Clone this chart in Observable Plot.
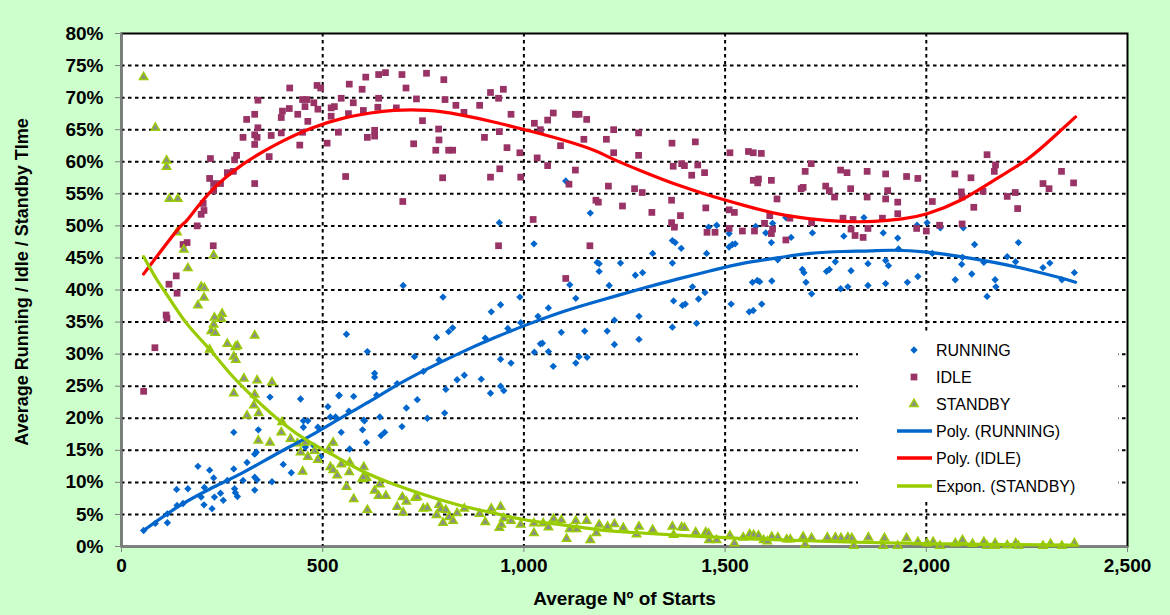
<!DOCTYPE html>
<html><head><meta charset="utf-8">
<script src="https://cdn.jsdelivr.net/npm/d3@7"></script>
<script src="https://cdn.jsdelivr.net/npm/@observablehq/plot@0.6"></script>
<style>
body{margin:0;background:#CCFFCC;}
#wrap{position:relative;width:1170px;height:615px;overflow:hidden;background:#CCFFCC;}
#legend{position:absolute;left:858px;top:332px;width:260px;height:170px;background:#fff;}
#legend text{font-family:'Liberation Sans',Arial,sans-serif;font-size:16px;fill:#000;}
</style></head><body><div id="wrap"><div id="legend"></div></div>
<script>
const xTicks = [0, 500, 1000, 1500, 2000, 2500];
const yTicks = [0, 5, 10, 15, 20, 25, 30, 35, 40, 45, 50, 55, 60, 65, 70, 75, 80];
const xTitle = "Average Nº of Starts";
const yTitle = "Average Running / Idle / Standby TIme";
const seriesNames = ["RUNNING", "IDLE", "STANDBY", "Poly. (RUNNING)", "Poly. (IDLE)", "Expon. (STANDBY)"];

// [average starts, percent]
const running = [[55,2.5],[84,3.6],[114,3.7],[114,5.1],[138,6.4],[153,6.7],[137,8.9],[165,9.0],[190,12.5],[198,7.7],[205,6.5],[206,9.2],[219,11.9],[225,5.9],[229,10.7],[231,7.7],[246,8.3],[253,7.2],[263,10.3],[279,12.1],[281,9.0],[283,8.4],[288,7.8],[279,17.8],[302,10.3],[312,13.1],[331,14.4],[335,14.7],[331,10.8],[337,10.4],[331,8.8],[340,18.2],[369,23.3],[374,10.1],[402,12.8],[422,11.5],[445,23.0],[452,19.6],[463,19.6],[452,18.6],[457,15.5],[478,15.7],[488,18.6],[495,14.0],[513,21.8],[519,20.2],[532,20.2],[540,23.5],[546,17.8],[577,23.4],[565,21.1],[567,15.2],[599,18.2],[604,19.6],[609,16.2],[526,16.2],[559,33.1],[611,30.4],[541,23.6],[700,40.7],[799,38.9],[629,27.0],[629,26.4],[728,29.6],[750,27.3],[783,32.6],[789,29.1],[813,33.5],[823,34.1],[834,26.0],[852,26.7],[806,24.5],[685,25.4],[634,23.6],[735,22.9],[894,26.1],[917,23.9],[942,25.0],[950,24.3],[904,32.5],[919,36.6],[942,37.7],[960,34.0],[942,29.2],[968,28.6],[990,38.9],[992,34.9],[939,50.5],[1025,47.2],[1035,35.9],[1061,37.2],[1041,31.6],[1046,31.7],[1026,30.3],[1061,30.4],[1073,28.1],[1093,33.4],[1114,40.8],[1129,38.7],[1151,33.6],[1137,29.6],[1129,28.6],[1157,29.5],[1165,52.0],[1182,44.3],[1187,44.1],[1187,42.9],[1212,40.7],[1207,33.6],[1225,31.5],[1225,35.3],[1240,44.2],[1277,42.3],[1295,42.7],[1286,35.9],[1286,32.3],[1320,45.7],[1369,47.7],[1376,47.4],[1391,46.5],[1369,44.2],[1372,38.3],[1369,34.2],[1394,37.6],[1401,37.8],[1419,40.5],[1429,34.8],[1434,38.6],[1450,39.6],[1454,45.7],[1459,49.8],[1479,50.1],[1510,48.8],[1510,46.7],[1518,47.1],[1525,47.2],[1515,37.8],[1560,36.6],[1570,36.8],[1591,37.8],[1568,41.2],[1580,41.5],[1586,41.3],[1616,41.4],[1576,49.9],[1601,48.9],[1615,47.4],[1618,50.4],[1631,44.7],[1651,51.3],[1664,48.2],[1692,43.2],[1696,42.7],[1701,41.2],[1715,39.4],[1717,48.9],[1752,42.9],[1759,43.2],[1774,44.4],[1795,48.4],[1787,40.2],[1805,40.5],[1813,43.0],[1845,51.3],[1855,44.1],[1855,40.7],[1893,48.9],[1899,44.6],[1906,43.8],[1899,41.0],[1929,48.1],[1931,46.4],[1953,41.2],[1979,42.1],[1977,50.1],[2002,50.5],[2015,45.7],[2035,49.7],[2072,41.6],[2092,49.7],[2090,45.1],[2088,44.0],[2113,42.5],[2120,47.1],[2143,44.3],[2151,39.0],[2171,41.6],[2173,40.5],[2201,45.2],[2222,44.4],[2229,47.4],[2290,43.5],[2307,44.2],[2337,41.6],[2368,42.7],[1104,57.0],[602,19.7],[642,20.2],[645,17.3],[654,17.8],[697,18.7],[708,21.6],[760,20.0],[803,20.8]];

const idle = [[55,24.2],[83,31.0],[111,36.1],[113,35.6],[118,40.9],[136,42.2],[138,39.5],[153,47.1],[163,47.4],[188,50.0],[228,46.9],[198,51.8],[205,52.4],[203,53.5],[221,60.5],[219,57.4],[229,56.6],[229,55.5],[246,56.6],[263,58.3],[278,58.5],[281,60.3],[286,61.0],[302,63.8],[311,66.6],[331,67.4],[331,64.2],[331,62.7],[337,63.8],[339,65.3],[339,69.6],[331,56.6],[367,60.8],[372,64.1],[397,64.5],[397,66.9],[400,67.9],[417,68.3],[418,71.5],[438,67.4],[443,62.6],[450,64.6],[450,69.7],[461,69.7],[456,68.6],[463,66.3],[478,69.2],[486,71.9],[495,71.5],[488,68.2],[511,62.9],[521,68.4],[521,67.1],[529,68.6],[539,64.6],[546,69.9],[557,57.7],[564,67.5],[566,72.1],[576,69.2],[598,71.3],[601,68.0],[607,73.2],[611,63.8],[629,64.9],[629,64.0],[639,73.6],[656,73.9],[639,69.9],[637,68.5],[683,68.4],[697,73.6],[707,71.5],[733,69.8],[758,73.8],[748,66.4],[726,62.8],[788,65.1],[789,63.4],[781,61.8],[801,72.8],[804,69.7],[813,61.8],[823,61.8],[831,68.8],[851,67.7],[798,57.5],[699,53.8],[890,68.8],[902,63.8],[917,70.8],[937,69.9],[949,71.3],[939,64.7],[958,62.2],[940,58.9],[917,57.6],[968,67.4],[990,61.4],[992,57.6],[1026,66.0],[1041,65.0],[1059,66.5],[1073,67.6],[1033,60.6],[1059,59.4],[1091,62.5],[1128,67.4],[1137,67.4],[1156,66.6],[1149,63.5],[1205,63.5],[1223,65.0],[1223,61.4],[1128,58.7],[1112,56.5],[1210,56.2],[1179,54.0],[1185,53.7],[1023,51.0],[1285,64.5],[1285,61.0],[1368,62.9],[1426,63.1],[1371,59.3],[1392,59.7],[1399,59.4],[1432,59.5],[1417,57.9],[1449,58.3],[1275,55.8],[1294,55.2],[1367,54.0],[1245,53.1],[1318,52.1],[1389,51.6],[1452,52.8],[1512,61.4],[1558,61.6],[1570,61.4],[1590,61.3],[1570,57.1],[1583,57.3],[1581,56.7],[1615,57.1],[1629,54.2],[1510,52.5],[1523,52.1],[1714,59.7],[1699,58.5],[1694,56.0],[1689,55.8],[1750,56.2],[1759,55.5],[1772,54.5],[1787,58.7],[1803,58.3],[1812,55.8],[1853,58.5],[1853,54.5],[1793,51.2],[1818,51.0],[1899,58.1],[1904,55.5],[1899,54.2],[1929,53.7],[1929,51.9],[1951,57.7],[1979,57.4],[1891,51.2],[2015,53.8],[2071,58.1],[2087,55.3],[2089,54.5],[2111,57.5],[2118,52.9],[2141,55.4],[2151,61.1],[2172,59.5],[2169,58.5],[2201,54.6],[2221,55.2],[2227,52.7],[2290,56.6],[2305,55.8],[2336,58.5],[2366,56.7],[1367,50.5],[1374,49.8],[1455,49.0],[1475,49.0],[1510,49.6],[1543,49.2],[1573,49.2],[1598,50.4],[1611,51.6],[1618,49.5],[1615,48.8],[1651,47.8],[1661,51.2],[1715,50.5],[1813,49.5],[1823,48.5],[1843,48.2],[1855,49.6],[1976,49.6],[2000,49.2],[2033,50.1],[2089,50.3],[937,46.9],[1104,41.8],[1164,46.9]];

const standby = [[55,73.2],[84,65.3],[112,60.2],[112,59.2],[119,54.2],[140,54.2],[138,49.0],[155,46.3],[229,45.4],[165,43.4],[198,40.5],[206,40.3],[205,38.8],[190,37.6],[231,35.7],[250,36.3],[248,35.5],[229,34.6],[223,33.6],[233,33.3],[331,32.9],[263,31.6],[283,31.1],[288,31.3],[279,29.6],[284,29.1],[219,30.7],[304,26.2],[337,25.9],[374,25.6],[279,23.9],[331,23.7],[329,22.0],[341,20.8],[312,20.4],[399,19.4],[397,17.8],[340,16.5],[369,16.2],[420,16.8],[437,16.1],[457,16.2],[445,14.7],[463,14.0],[480,14.9],[488,13.5],[515,15.1],[526,16.2],[519,12.4],[526,11.9],[536,11.1],[546,12.8],[567,13.1],[566,11.6],[450,11.7],[559,9.3],[577,7.4],[598,10.5],[609,10.7],[611,5.7],[602,12.4],[601,10.8],[629,8.7],[639,7.9],[642,9.7],[657,7.9],[685,6.2],[698,7.7],[708,7.0],[730,7.6],[735,7.7],[700,5.3],[750,5.9],[760,6.0],[783,4.9],[789,6.5],[793,5.8],[806,5.7],[799,3.7],[814,4.6],[824,4.0],[834,5.2],[852,5.9],[890,5.1],[904,3.8],[919,5.9],[942,6.2],[950,4.4],[939,2.9],[944,3.4],[968,4.0],[992,3.4],[1025,3.6],[1025,2.1],[1048,3.6],[1061,3.0],[1074,4.3],[1093,4.1],[1106,1.2],[1114,2.7],[1129,4.0],[1131,2.7],[1156,4.0],[1165,1.0],[1187,3.4],[1180,2.1],[1208,3.1],[1225,3.5],[1247,2.9],[1286,3.1],[1280,1.9],[1320,2.6],[1369,3.1],[1392,3.0],[1399,2.9],[1372,1.8],[1427,2.2],[1452,2.2],[1459,2.0],[1460,1.0],[1479,1.0],[1512,1.7],[1523,0.5],[1545,1.4],[1561,1.9],[1571,1.8],[1583,1.7],[1596,1.0],[1605,0.8],[1616,1.5],[1631,1.4],[1653,1.1],[1662,1.1],[1694,1.5],[1699,0.3],[1715,1.3],[1754,1.4],[1774,1.4],[1788,1.3],[1805,1.4],[1815,1.3],[1820,0.1],[1856,1.4],[1896,1.3],[1893,0.1],[1929,0.1],[1951,1.3],[1979,0.7],[2002,0.5],[2017,0.7],[2034,0.1],[2072,0.5],[2090,1.0],[2115,0.4],[2143,0.7],[2151,0.1],[2171,0.1],[2171,0.5],[2201,0.2],[2222,0.5],[2229,0.1],[2290,0.1],[2309,0.4],[2337,0.1],[2368,0.5]];

// trend lines
const runningTrend = [[55,2.5],[138,6.1],[221,9.0],[304,11.6],[387,14.5],[470,17.3],[552,20.3],[619,22.7],[677,24.9],[760,27.7],[842,30.2],[925,32.5],[1008,34.6],[1091,36.5],[1174,38.1],[1298,40.3],[1381,41.7],[1464,43.0],[1547,44.2],[1629,45.0],[1712,45.7],[1795,46.0],[1861,46.1],[1919,46.2],[2002,45.9],[2085,45.2],[2168,44.3],[2251,43.2],[2333,41.9],[2371,41.2]];
const idleTrend = [[55,42.5],[138,49.3],[163,50.9],[221,55.3],[304,59.7],[387,62.8],[470,65.2],[552,66.8],[619,67.6],[677,68.0],[760,68.0],[842,67.3],[925,66.2],[1008,64.9],[1091,63.5],[1174,61.8],[1215,60.6],[1298,58.4],[1381,56.4],[1464,54.7],[1547,53.2],[1629,51.9],[1712,51.1],[1790,50.7],[1870,50.7],[1940,51.1],[2002,51.9],[2085,54.0],[2168,57.1],[2251,60.4],[2317,63.9],[2371,67.0]];
const standbyTrend = [[55,45.2],[89,41.5],[122,38.4],[163,34.7],[221,30.6],[271,26.9],[329,23.2],[403,19.1],[470,16.2],[536,13.9],[594,11.9],[677,9.7],[760,7.9],[842,6.4],[925,5.2],[1008,4.1],[1091,3.4],[1174,2.7],[1240,2.3],[1400,1.7],[1600,1.1],[1800,0.7],[2000,0.45],[2200,0.3],[2370,0.2]];

const colors = {running: "#0066CC", idle: "#993366", standbyFill: "#8C8C8C", standbyStroke: "#99CC00", idleLine: "#FF0000", standbyLine: "#99CC00"};

const X = d => d[0], Y = d => d[1];
const gridStyle = {stroke: "#000", strokeOpacity: 1, strokeWidth: 2, strokeDasharray: "3.5,3.5"};

const chart = Plot.plot({
  width: 1170, height: 615,
  marginLeft: 121, marginRight: 43, marginTop: 33, marginBottom: 69,
  style: {background: "#CCFFCC", fontFamily: "'Liberation Sans', Arial, sans-serif", fontWeight: "bold", fontSize: "19px", color: "#000"},
  x: {domain: [0, 2500]},
  y: {domain: [0, 80]},
  marks: [
    Plot.frame({fill: "white"}),
    Plot.gridY(yTicks.filter(d => d > 0 && d < 80), gridStyle),
    Plot.gridX(xTicks.filter(d => d > 0 && d < 2500), gridStyle),
    Plot.frame({stroke: "#000", strokeWidth: 2}),
    Plot.ruleX([0], {stroke: "#808080", strokeWidth: 2}),
    Plot.ruleY([0], {stroke: "#808080", strokeWidth: 2}),
    Plot.axisY(yTicks, {tickSize: 6, tickPadding: 12, tickFormat: d => d + "%", stroke: "#808080", fill: "#000", label: null}),
    Plot.axisX(xTicks, {tickSize: 6, tickPadding: 6, tickFormat: d3.format(","), stroke: "#808080", fill: "#000", label: null}),
    Plot.text([xTitle], {frameAnchor: "bottom", textAnchor: "middle", lineAnchor: "middle", dy: 52, fontSize: 19, fontWeight: "bold", fill: "#000"}),
    Plot.text([yTitle], {frameAnchor: "left", textAnchor: "middle", lineAnchor: "middle", dx: -99, dy: -8, rotate: -90, fontSize: 18, fontWeight: "bold", fill: "#000"}),
    Plot.dot(running, {x: X, y: Y, symbol: "diamond2", r: 3.3, fill: colors.running, stroke: "none"}),
    Plot.dot(idle, {x: X, y: Y, symbol: "square", r: 3.8, fill: colors.idle, stroke: "none"}),
    Plot.dot(standby, {x: X, y: Y, symbol: "triangle", r: 3.1, fill: colors.standbyFill, stroke: colors.standbyStroke, strokeWidth: 1.5}),
    Plot.line(runningTrend, {x: X, y: Y, stroke: colors.running, strokeWidth: 3.2, curve: "natural"}),
    Plot.line(idleTrend, {x: X, y: Y, stroke: colors.idleLine, strokeWidth: 3.2, curve: "natural"}),
    Plot.line(standbyTrend, {x: X, y: Y, stroke: colors.standbyLine, strokeWidth: 3.2, curve: "natural"})
  ]
});
const wrap = document.getElementById("wrap");
wrap.insertBefore(chart, wrap.firstChild);
chart.style.position = "absolute"; chart.style.left = "0"; chart.style.top = "0";

// legend
const lg = d3.select("#legend").append("svg").attr("width", 260).attr("height", 170);
const rowsY = [18, 45, 72, 99, 126, 154];
const sym = (type, size) => d3.symbol(type, size)();
lg.append("path").attr("d", sym(d3.symbolDiamond2, Math.PI * 3.3 * 3.3)).attr("transform", `translate(56,${rowsY[0]})`).attr("fill", colors.running);
lg.append("path").attr("d", sym(d3.symbolSquare, Math.PI * 3.8 * 3.8)).attr("transform", `translate(56,${rowsY[1]})`).attr("fill", colors.idle);
lg.append("path").attr("d", sym(d3.symbolTriangle, Math.PI * 3.1 * 3.1)).attr("transform", `translate(56,${rowsY[2]})`).attr("fill", colors.standbyFill).attr("stroke", colors.standbyStroke).attr("stroke-width", 1.5);
[colors.running, colors.idleLine, colors.standbyLine].forEach((c, i) => {
  lg.append("line").attr("x1", 39).attr("x2", 74).attr("y1", rowsY[3 + i]).attr("y2", rowsY[3 + i]).attr("stroke", c).attr("stroke-width", 3.5);
});
seriesNames.forEach((n, i) => {
  lg.append("text").attr("x", 78).attr("y", rowsY[i]).attr("dy", "0.36em").text(n);
});
</script></body></html>
